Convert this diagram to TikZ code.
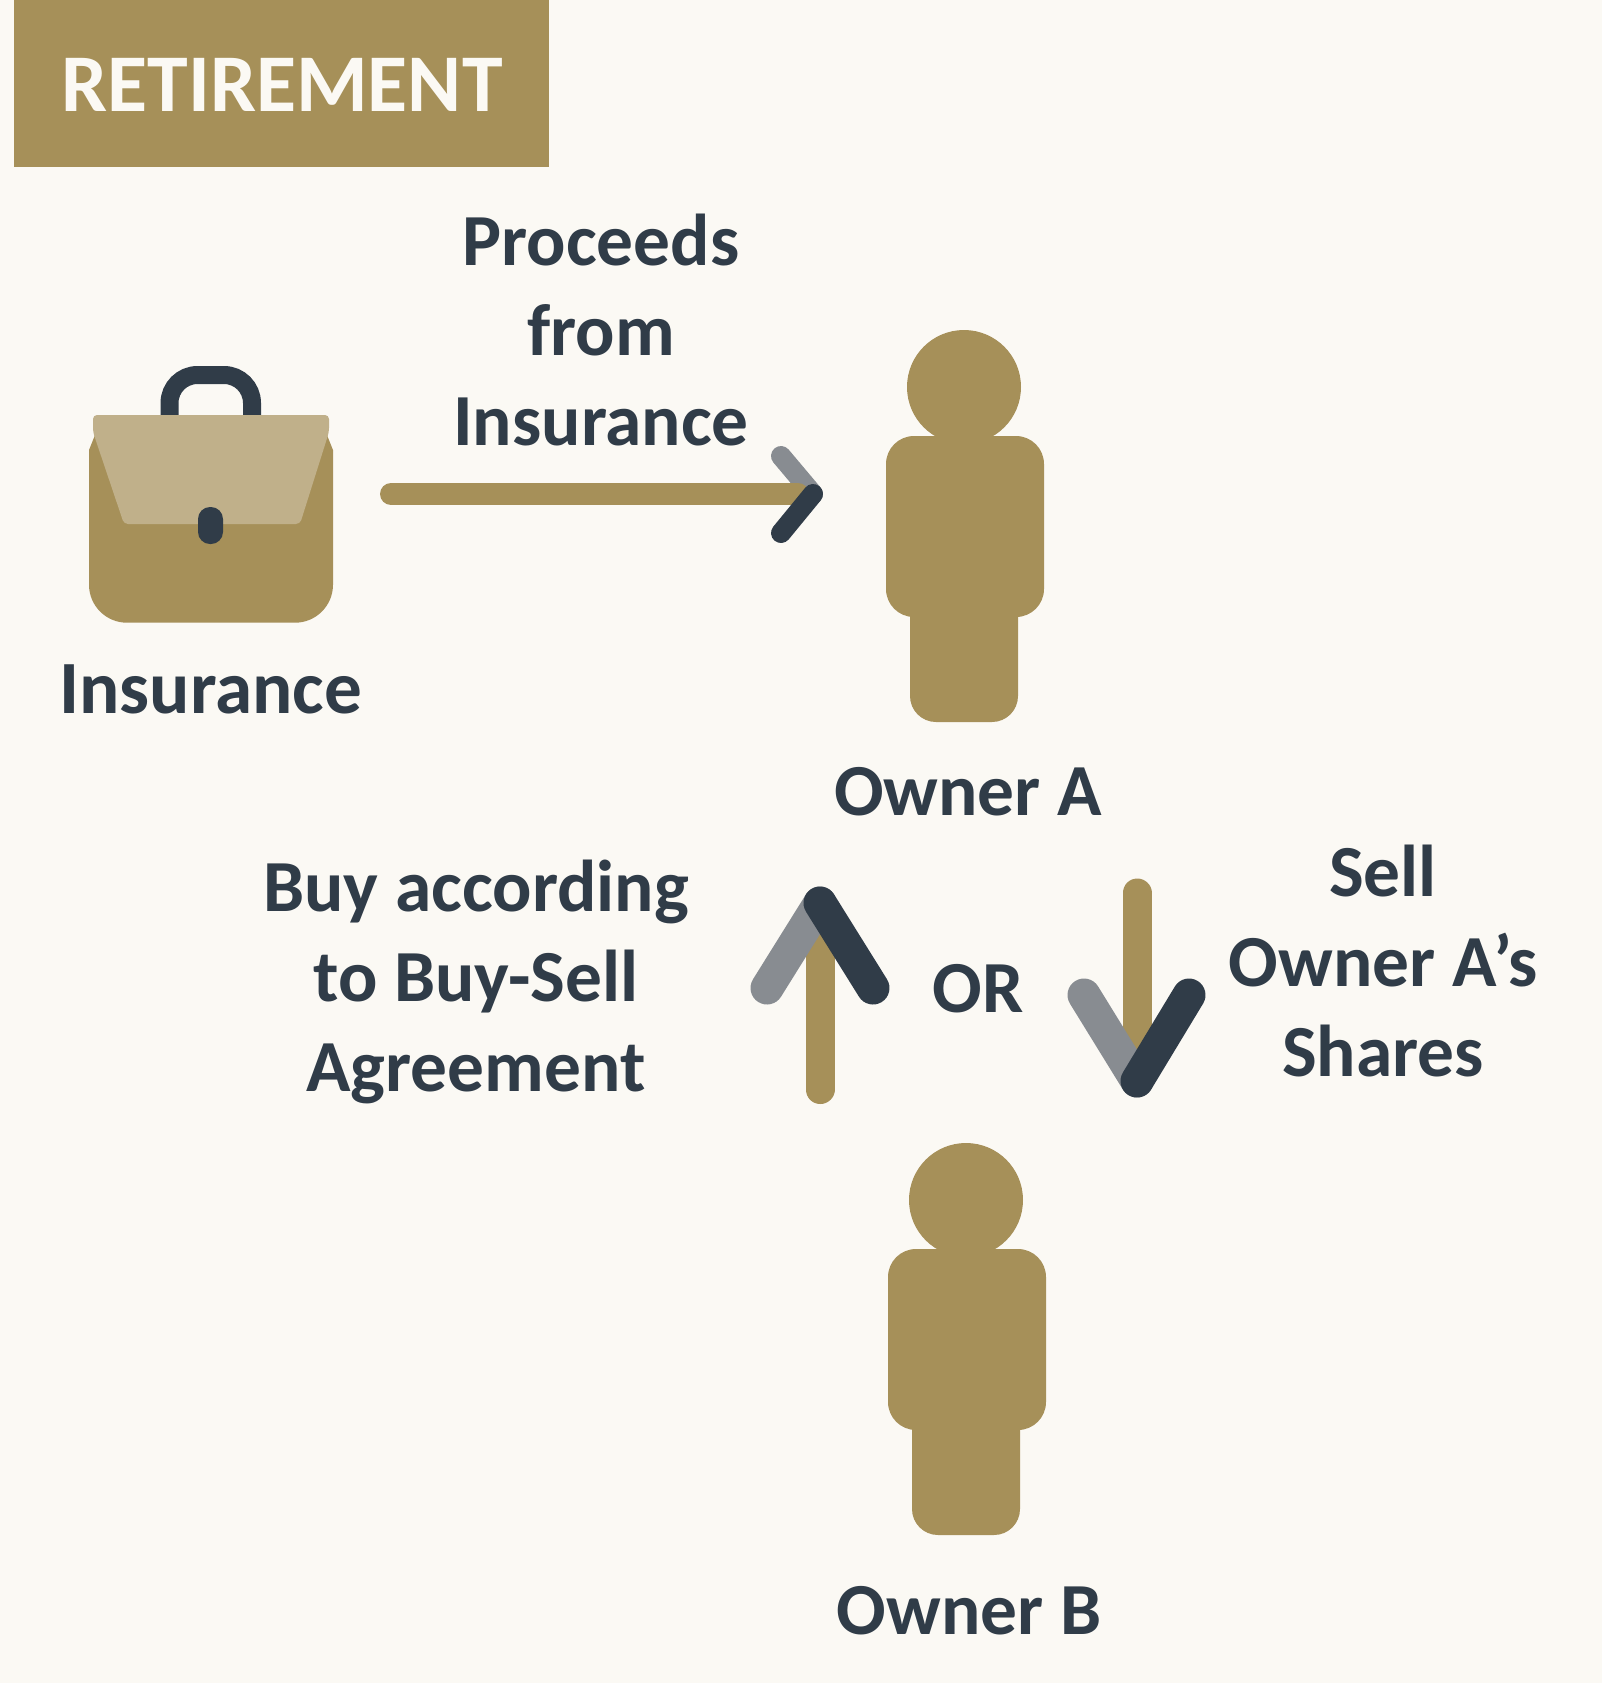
\documentclass[tikz,border=0pt]{standalone}
\usepackage{fontspec}
\setmainfont{Carlito}
\definecolor{paper}{HTML}{FBF9F4}
\definecolor{gold}{HTML}{A69059}
\definecolor{flap}{HTML}{C0B08A}
\definecolor{ink}{HTML}{303C48}
\definecolor{greyhead}{HTML}{888C91}
\tikzset{
  label/.style={text=ink,font=\fontsize{36.7}{44.8}\selectfont\bfseries,align=center,inner sep=0pt},
  shaftline/.style={draw=gold,line cap=round},
  headgrey/.style={draw=greyhead,line cap=round},
  headink/.style={draw=ink,line cap=round},
  person/.pic={
    \fill[gold] (0,-159) circle[radius=57];
    \fill[gold,rounded corners=13pt] (-54,-20) rectangle (54,176);
    \fill[gold,rounded corners=14pt] (-78,-110) rectangle (80,71);
  }
}
\begin{document}
\begin{tikzpicture}[x=0.5pt,y=-0.5pt]
\useasboundingbox (0,0) rectangle (1602,1683);
\fill[paper] (0,0) rectangle (1602,1683);

% banner
\fill[gold] (14,0) rectangle (549,167);
\node[label,text=paper,font=\fontsize{41}{44.8}\selectfont\bfseries] (banner) at (282,85) {RETIREMENT};

% briefcase
\draw[ink,line width=9pt,rounded corners=14pt] (169.5,420) -- (169.5,375) -- (252,375) -- (252,420);
\fill[gold] (95,435) -- (89,450) -- (89,584.7) arc[start angle=180,end angle=90,radius=38] -- (295,622.7) arc[start angle=90,end angle=0,radius=38] -- (333,450) -- (327,435) -- cycle;
\fill[flap,rounded corners=2pt] (93,415) -- (329,415) -- (329,432) -- (300,524) -- (124,524) -- (93,432) -- cycle;
\fill[ink,rounded corners=6pt] (198,507) rectangle (223,544);
\node[label,font=\fontsize{37.6}{44.8}\selectfont\bfseries] (insurance) at (210.6,689) {Insurance};

% owners
\pic at (964,546) {person};
\node[label] (ownerA) at (968,792) {Owner A};
\pic at (966,1359) {person};
\node[label] (ownerB) at (969,1611) {Owner B};

% proceeds arrow
\coordinate (proceedsStart) at (391,494);
\coordinate (proceedsEnd) at (798,494);
\coordinate (proceedsTip) at (813,494);
\coordinate (proceedsTop) at (781,456);
\coordinate (proceedsLow) at (781,533);
\draw[headgrey,line width=10pt] (proceedsTop) -- (proceedsTip);
\draw[shaftline,line width=11pt] (proceedsStart) -- (proceedsEnd);
\draw[headink,line width=10pt] (proceedsLow) -- (proceedsTip);
\node[label] (proceeds) at (601,330) {Proceeds\\from\\Insurance};

% buy arrow
\coordinate (buyStart) at (820,1089.5);
\coordinate (buyEnd) at (820,930);
\coordinate (buyTip) at (820,903);
\coordinate (buyLeft) at (767,988);
\coordinate (buyRight) at (873,988);
\draw[shaftline,line width=14.5pt] (buyStart) -- (buyEnd);
\draw[headgrey,line width=16.5pt] (buyLeft) -- (buyTip);
\draw[headink,line width=16.5pt] (buyRight) -- (buyTip);
\node[label] (buy) at (476,982) {Buy according\\to Buy-Sell\\Agreement};

\node[label] (orword) at (978,989) {OR};

% sell arrow
\coordinate (sellStart) at (1137,893);
\coordinate (sellEnd) at (1137,1040);
\coordinate (sellTip) at (1137,1081);
\coordinate (sellLeft) at (1084,995);
\coordinate (sellRight) at (1189,995);
\draw[shaftline,line width=14.5pt] (sellStart) -- (sellEnd);
\draw[headgrey,line width=16.5pt] (sellLeft) -- (sellTip);
\draw[headink,line width=16.5pt] (sellRight) -- (sellTip);
\node[label] (sell) at (1383,961) {Sell\\Owner A’s\\Shares};
\end{tikzpicture}
\end{document}
